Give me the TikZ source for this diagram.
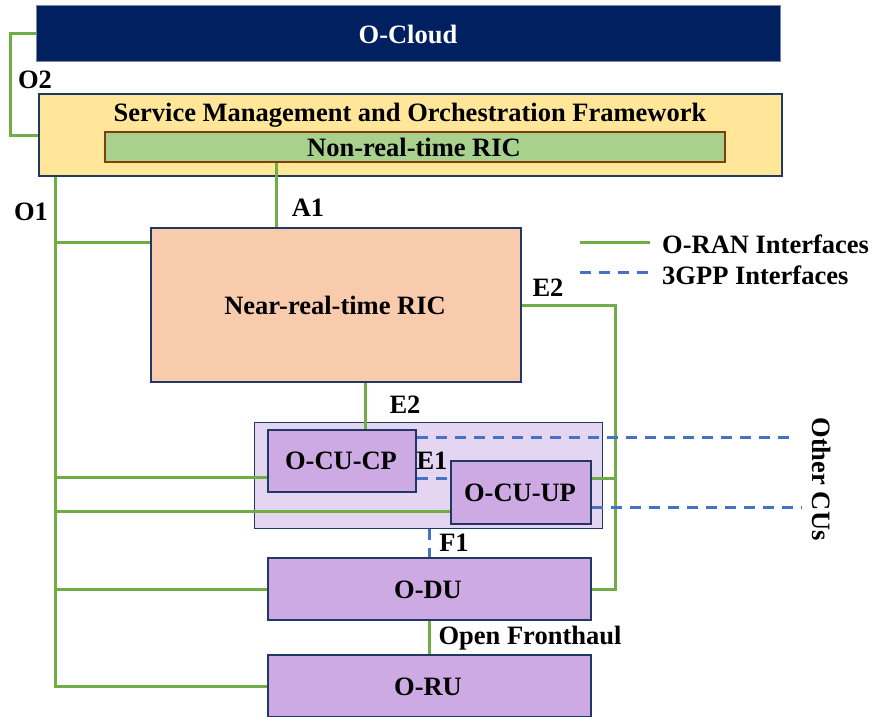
\documentclass[tikz,border=0pt]{standalone}
\usepackage{fontspec}
\setmainfont{Liberation Serif}
\usetikzlibrary{calc}
\definecolor{navy}{RGB}{0,32,96}
\definecolor{edge}{RGB}{31,56,100}
\definecolor{smofill}{RGB}{255,230,153}
\definecolor{nonrtfill}{RGB}{169,209,142}
\definecolor{nonrtedge}{RGB}{132,60,12}
\definecolor{nrtfill}{RGB}{248,203,173}
\definecolor{purp}{RGB}{205,170,227}
\definecolor{grpfill}{RGB}{228,214,242}
\definecolor{oran}{RGB}{112,173,71}
\definecolor{gpp}{RGB}{68,114,196}
\begin{document}
\begin{tikzpicture}[x=1pt,y=-1pt,
  every node/.style={font=\fontsize{26.5}{31}\selectfont\bfseries, inner sep=0pt},
  box/.style={draw=edge, line width=2pt, anchor=north west},
  lbl/.style={text=black},
  oranline/.style={draw=oran, line width=3pt},
  gppline/.style={draw=gpp, line width=3pt, dash pattern=on 11pt off 8pt}]
\useasboundingbox (0,0) rectangle (870,717);
% boxes
\node[box, draw=edge!60, line width=1pt, fill=navy, minimum width=744pt, minimum height=56pt] (cloud) at (36,5) {};
\node[text=white] at (408,34) {O-Cloud};
\node[box, fill=smofill, minimum width=743pt, minimum height=82pt] (smo) at (38,93) {};
\node[lbl] (smot) at (410,115) {Service Management and Orchestration Framework};
\node[box, draw=nonrtedge, fill=nonrtfill, minimum width=620pt, minimum height=30pt] (nonrt) at (104,131) {};
\node[lbl] at (414,147) {Non-real-time RIC};
\node[box, fill=nrtfill, minimum width=370pt, minimum height=154pt] (nrt) at (150,227) {};
\node[lbl] at (335,305) {Near-real-time RIC};
\node[box, line width=1.2pt, fill=grpfill, minimum width=348pt, minimum height=106pt] (grp) at (254,422) {};
\node[box, fill=purp, minimum width=148pt, minimum height=62pt] (cucp) at (267,429) {};
\node[lbl] at (341,461) {O-CU-CP};
\node[box, fill=purp, minimum width=140pt, minimum height=63pt] (cuup) at (450,460) {};
\node[lbl] at (520,493) {O-CU-UP};
\node[box, fill=purp, minimum width=323pt, minimum height=62pt] (du) at (267,557) {};
\node[lbl] at (428,590) {O-DU};
\node[box, fill=purp, minimum width=323pt, minimum height=62pt] (ru) at (267,654) {};
\node[lbl] at (428,687) {O-RU};
% helper coordinates
\coordinate (bus) at (55,0);
\coordinate (a1x) at (276,0);
\coordinate (e2x) at (615,0);
\coordinate (e2b) at (365,0);
\coordinate (nrtW) at ($(nrt.north west)+(0,15)$);
\coordinate (cucpW) at ($(cucp.south west)+(0,-16)$);
\coordinate (cuupW) at ($(cuup.south west)+(0,-14)$);
\coordinate (cuupE) at ($(cuup.north east)+(0,18)$);
\coordinate (e1y) at (0,478);
\coordinate (cucpO) at ($(cucp.north east)+(0,8)$);
\coordinate (cuupO) at ($(cuup.south east)+(0,-18)$);
\coordinate (oc1) at (797,0);
\coordinate (oc2) at (802,0);
% O-RAN interfaces
\draw[oranline] (cloud.west) -- ++(-26,0) |- (smo.west);
\draw[oranline] (smo.south -| bus) -- (ru.west -| bus) -- (ru.west);
\draw[oranline] (nrtW -| bus) -- (nrtW);
\draw[oranline] (cucpW -| bus) -- (cucpW);
\draw[oranline] (cuupW -| bus) -- (cuupW);
\draw[oranline] (du.west -| bus) -- (du.west);
\draw[oranline] (nonrt.south -| a1x) -- (nrt.north -| a1x);
\draw[oranline] (nrt.east) -| (e2x |- du.east) -- (du.east);
\draw[oranline] (cuupE) -- (cuupE -| e2x);
\draw[oranline] (nrt.south -| e2b) -- (cucp.north -| e2b);
\draw[oranline] (du.south) -- (ru.north);
% 3GPP interfaces
\draw[gppline] (cucp.east |- e1y) -- (cuup.west |- e1y);
\draw[gppline] (cucpO) -- (cucpO -| oc1);
\draw[gppline] (cuupO) -- (cuupO -| oc2);
\draw[gppline] (grp.south -| du.north) -- (du.north);
% labels
\node[lbl] at (35,80) {O2};
\node[lbl] at (31,212) {O1};
\node[lbl] at (308,208) {A1};
\node[lbl] at (548,288) {E2};
\node[lbl] at (405,405) {E2};
\node[lbl] at (432,461) {E1};
\node[lbl] at (454,543) {F1};
\node[lbl] at (530,638) {Open Fronthaul};
\node[lbl, rotate=-90] at (822,479) {Other CUs};
% legend
\coordinate (l1a) at (580,242);
\coordinate (l1b) at (650,242);
\coordinate (l2a) at (580,272);
\coordinate (l2b) at (652,272);
\draw[oranline] (l1a) -- (l1b);
\draw[gppline] (l2a) -- (l2b);
\node[lbl, anchor=west] at (662,244) {O-RAN Interfaces};
\node[lbl, anchor=west] at (662,275) {3GPP Interfaces};
\end{tikzpicture}
\end{document}
